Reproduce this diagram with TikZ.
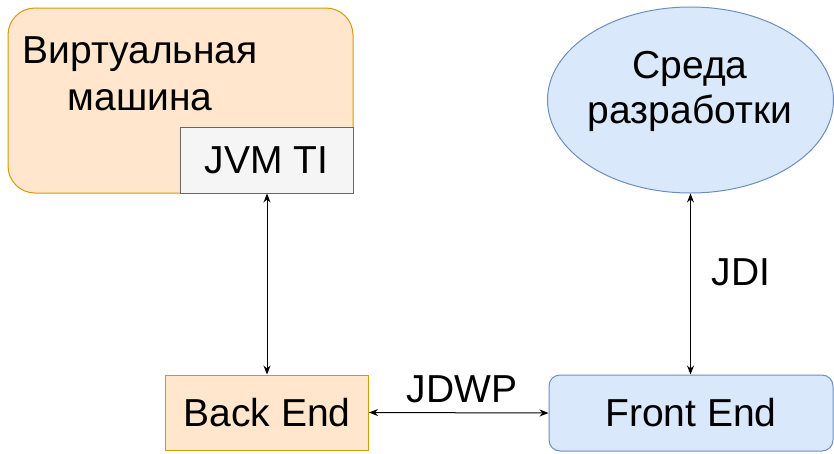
\documentclass[tikz,border=0pt]{standalone}
\usepackage{fontspec}
\setmainfont{Liberation Sans}
\usetikzlibrary{arrows.meta,shapes.geometric}

\definecolor{orangefill}{HTML}{FFE6CC}
\definecolor{orangeline}{HTML}{D79B00}
\definecolor{bluefill}{HTML}{DAE8FC}
\definecolor{blueline}{HTML}{6C8EBF}
\definecolor{greyfill}{HTML}{F5F5F5}
\definecolor{greyline}{HTML}{666666}

\tikzset{
  bigfont/.style={font=\fontsize{39}{46}\selectfont},
  lbl/.style={bigfont, inner sep=0pt},
  link/.style={line width=1pt, {Stealth[length=9pt,width=7pt]}-{Stealth[length=9pt,width=7pt]}},
  orangebox/.style={draw=orangeline, fill=orangefill, line width=1pt},
  bluebox/.style={draw=blueline, fill=bluefill, line width=1pt},
  greybox/.style={draw=greyline, fill=greyfill, line width=1pt},
}

\begin{document}
\begin{tikzpicture}[x=1pt, y=-1pt]
  \useasboundingbox (0,0) rectangle (834,453);

  % virtual machine with its JVM TI interface
  \draw[orangebox, rounded corners=27pt] (8,8) rectangle (353,193);
  \node[lbl, anchor=base] (vm1) at (140,63) {Виртуальная};
  \node[lbl, anchor=base] (vm2) at (140,110) {машина};
  \node[greybox, bigfont, minimum width=173pt, minimum height=66pt, inner sep=0pt]
    (jvmti) at (266.5,160) {JVM TI};

  % development environment
  \node[bluebox, ellipse, minimum width=286pt, minimum height=186pt, inner sep=0pt]
    (ide) at (690.5,100) {};
  \node[lbl, anchor=base] (ide1) at (690,78) {Среда};
  \node[lbl, anchor=base] (ide2) at (690,123) {разработки};

  % debugger ends
  \node[orangebox, bigfont, minimum width=203pt, minimum height=75pt, inner sep=0pt]
    (back) at (267,412.5) {Back End};
  \node[bluebox, bigfont, rounded corners=11pt, minimum width=284pt, minimum height=76pt, inner sep=0pt]
    (front) at (691,413) {Front End};

  % connectors
  \draw[link] (jvmti.south -| back.north) -- (back.north);
  \draw[link] (ide.south) -- (ide.south |- front.north);
  \draw[link] (back.east) -- (front.west);

  \node[lbl, anchor=base] (jdwp) at (462,402) {JDWP};
  \node[lbl, anchor=base] (jdi) at (741,285) {JDI};
\end{tikzpicture}
\end{document}
